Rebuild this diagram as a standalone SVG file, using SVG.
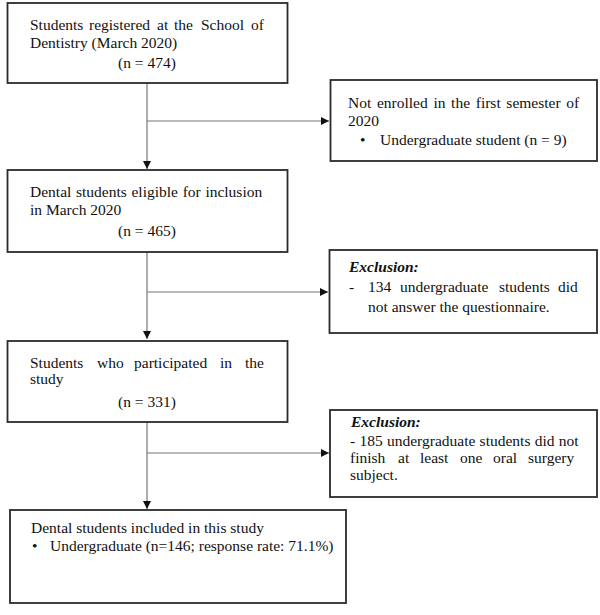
<svg xmlns="http://www.w3.org/2000/svg" width="600" height="615" viewBox="0 0 600 615">
<style>
.box{fill:#fff;stroke:#2b2b2b;stroke-width:1.8}
.t{font-family:"Liberation Serif","Times New Roman",serif;font-size:15.5px;fill:#111}
.bi{font-weight:bold;font-style:italic}
.c{fill:none;stroke:#777;stroke-width:1.2}
</style>
<defs>
<marker id="ah" markerUnits="userSpaceOnUse" markerWidth="8" markerHeight="8" refX="8" refY="4" orient="auto">
<path d="M0,0 L8,4 L0,8 z" fill="#111"/>
</marker>
</defs>
<rect width="600" height="615" fill="#fff"/>
<g id="connectors">
<line class="c" x1="147" y1="83" x2="147" y2="169" marker-end="url(#ah)"/>
<line class="c" x1="147" y1="121" x2="329" y2="121" marker-end="url(#ah)"/>
<line class="c" x1="147" y1="252" x2="147" y2="339" marker-end="url(#ah)"/>
<line class="c" x1="147" y1="292" x2="328" y2="292" marker-end="url(#ah)"/>
<line class="c" x1="147" y1="422" x2="147" y2="509" marker-end="url(#ah)"/>
<line class="c" x1="147" y1="453" x2="329" y2="453" marker-end="url(#ah)"/>
</g>
<g id="box1">
<rect class="box" x="7.5" y="3" width="280" height="80"/>
<text class="t" y="30"><tspan x="30">Students</tspan><tspan x="89">registered</tspan><tspan x="157">at</tspan><tspan x="174">the</tspan><tspan x="201">School</tspan><tspan x="251">of</tspan></text>
<text class="t" x="30" y="48">Dentistry (March 2020)</text>
<text class="t" x="147" y="68" text-anchor="middle">(n = 474)</text>
</g>
<g id="excl1">
<rect class="box" x="330.5" y="80" width="266.5" height="81"/>
<text class="t" x="348" y="108" word-spacing="1.8">Not enrolled in the first semester of</text>
<text class="t" x="348" y="126">2020</text>
<text class="t" x="360" y="145">•</text>
<text class="t" x="380" y="145">Undergraduate student (n = 9)</text>
</g>
<g id="box2">
<rect class="box" x="7.5" y="170" width="280" height="82"/>
<text class="t" x="30" y="197" word-spacing="0.8">Dental students eligible for inclusion</text>
<text class="t" x="30" y="215">in March 2020</text>
<text class="t" x="147" y="236" text-anchor="middle">(n = 465)</text>
</g>
<g id="excl2">
<rect class="box" x="329.5" y="250" width="267.5" height="83"/>
<text class="t bi" x="349" y="272">Exclusion:</text>
<text class="t" y="292"><tspan x="349">-</tspan><tspan x="368">134</tspan><tspan x="400">undergraduate</tspan><tspan x="499">students</tspan><tspan x="558">did</tspan></text>
<text class="t" x="368" y="312">not answer the questionnaire.</text>
</g>
<g id="box3">
<rect class="box" x="7.5" y="341" width="280" height="81"/>
<text class="t" y="368"><tspan x="30">Students</tspan><tspan x="97">who</tspan><tspan x="134">participated</tspan><tspan x="220">in</tspan><tspan x="245">the</tspan></text>
<text class="t" x="30" y="384">study</text>
<text class="t" x="147" y="407" text-anchor="middle">(n = 331)</text>
</g>
<g id="excl3">
<rect class="box" x="330" y="410" width="267" height="87"/>
<text class="t bi" x="351" y="427">Exclusion:</text>
<text class="t" x="350" y="446" word-spacing="0.4">- 185 undergraduate students did not</text>
<text class="t" y="463"><tspan x="350">finish</tspan><tspan x="398">at</tspan><tspan x="420">least</tspan><tspan x="460">one</tspan><tspan x="493">oral</tspan><tspan x="528">surgery</tspan></text>
<text class="t" x="350" y="480">subject.</text>
</g>
<g id="box4">
<rect class="box" x="10" y="510" width="336" height="93"/>
<text class="t" x="31" y="533">Dental students included in this study</text>
<text class="t" x="32" y="551">•</text>
<text class="t" x="50" y="551">Undergraduate (n=146; response rate: 71.1%)</text>
</g>
</svg>
